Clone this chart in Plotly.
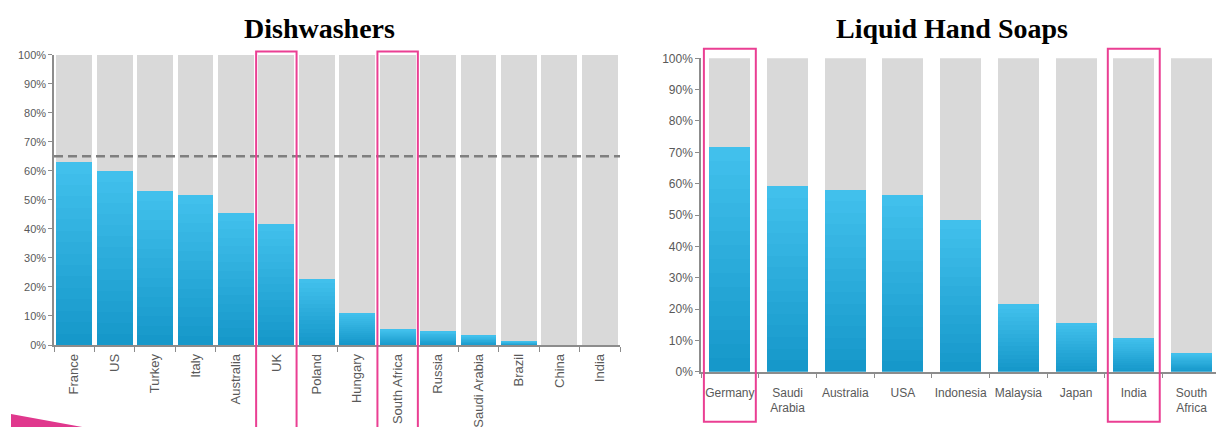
import plotly.graph_objects as go

W, H = 1216, 427

# ---------------- data ----------------
dish_countries = ["France", "US", "Turkey", "Italy", "Australia", "UK", "Poland",
                  "Hungary", "South Africa", "Russia", "Saudi Arabia", "Brazil", "China", "India"]
dish_values = [0.63, 0.60, 0.53, 0.517, 0.455, 0.418, 0.226, 0.111, 0.054, 0.048, 0.033, 0.015, 0.0, 0.0]
dish_benchmark = 0.65
dish_highlight = ["UK", "South Africa"]

soap_countries = ["Germany", "Saudi<br>Arabia", "Australia", "USA", "Indonesia",
                  "Malaysia", "Japan", "India", "South<br>Africa"]
soap_values = [0.717, 0.592, 0.58, 0.565, 0.484, 0.215, 0.155, 0.107, 0.059]
soap_highlight = ["Germany", "India"]

y_ticks = [0, 0.1, 0.2, 0.3, 0.4, 0.5, 0.6, 0.7, 0.8, 0.9, 1.0]

# ---------------- styling ----------------
GREY_BAR = "#D9D9D9"
BOTTOM = (22, 152, 202)
TOP = (65, 192, 236)
PINK = "#EA3F93"
AXIS = "#8C8C8C"
TXT = "#595959"
N_SLICES = 16


def slice_color(k):
    t = k / (N_SLICES - 1)
    r, g, b = (round(BOTTOM[i] + (TOP[i] - BOTTOM[i]) * t) for i in range(3))
    return f"rgb({r},{g},{b})"


fig = go.Figure()


def add_bars(cats, vals, xa, ya, width=None):
    for k in range(N_SLICES):
        fig.add_trace(go.Bar(
            x=cats, y=[v / N_SLICES for v in vals], xaxis=xa, yaxis=ya, width=width,
            marker=dict(color=slice_color(k), line=dict(width=0)),
            hoverinfo="skip", showlegend=False))
    fig.add_trace(go.Bar(
        x=cats, y=[1 - v for v in vals], xaxis=xa, yaxis=ya, width=width,
        marker=dict(color=GREY_BAR, line=dict(width=0)),
        hoverinfo="skip", showlegend=False))


add_bars(dish_countries, dish_values, "x", "y", 0.89)
add_bars(soap_countries, soap_values, "x2", "y2", 0.71)


def px_x(x):
    return x / W


def px_y(y):
    return 1 - y / H


left_dom_x = [px_x(54), px_x(620)]
left_dom_y = [px_y(345), px_y(54.7)]
right_dom_x = [px_x(701), 1.0]
right_dom_y = [px_y(371.7), px_y(58.3)]

sans = "Liberation Sans, Arial, sans-serif"
yfont_l = dict(family=sans, size=11, color=TXT)
xfont_l = dict(family=sans, size=13, color=TXT)
font_r = dict(family=sans, size=12, color=TXT)

common = dict(showgrid=False, zeroline=False, automargin=False,
              showline=True, linecolor=AXIS, linewidth=1.5, ticks="outside", tickcolor=AXIS)

fig.update_layout(
    width=W, height=H,
    margin=dict(l=0, r=0, t=0, b=0, autoexpand=False),
    paper_bgcolor="white", plot_bgcolor="white",
    barmode="stack",
    xaxis=dict(domain=left_dom_x, anchor="y", type="category", range=[-0.5, 13.5],
               tickson="boundaries", ticklen=5, tickangle=-90, tickfont=xfont_l,
               ticklabelstandoff=2, **common),
    yaxis=dict(domain=left_dom_y, anchor="x", range=[0, 1], tickvals=y_ticks,
               tickformat=".0%", ticklen=4, tickfont=yfont_l, **common),
    xaxis2=dict(domain=right_dom_x, anchor="y2", type="category", range=[-0.5, 8.425],
                tickson="boundaries", ticklen=5, tickangle=0, tickfont=font_r,
                ticklabelstandoff=9, **common),
    yaxis2=dict(domain=right_dom_y, anchor="x2", range=[0, 1], tickvals=y_ticks,
                tickformat=".0%", ticklen=4, tickfont=font_r, **common),
)

shapes = []
# benchmark dashed line
shapes.append(dict(type="line", xref="x domain", yref="y", x0=0, x1=1,
                   y0=dish_benchmark, y1=dish_benchmark,
                   line=dict(color="#7F7F7F", width=2.5, dash="9px,5px"), layer="above"))
# highlight boxes
for c in dish_highlight:
    i = dish_countries.index(c)
    shapes.append(dict(type="rect", xref="x", yref="paper", x0=i - 0.5, x1=i + 0.5,
                       y0=-0.2, y1=px_y(51.5), line=dict(color=PINK, width=2),
                       fillcolor="rgba(0,0,0,0)", layer="above"))
for c in soap_highlight:
    i = [s.replace("<br>", " ") for s in soap_countries].index(c)
    shapes.append(dict(type="rect", xref="x2", yref="paper", x0=i - 0.45, x1=i + 0.45,
                       y0=px_y(421.7), y1=px_y(48.7), line=dict(color=PINK, width=2),
                       fillcolor="rgba(0,0,0,0)", layer="above"))
# decorative wedge bottom-left
shapes.append(dict(type="path", xref="paper", yref="paper",
                   path=f"M {px_x(11)},{px_y(414)} L {px_x(85)},{px_y(427.5)} L {px_x(11)},{px_y(427.5)} Z",
                   fillcolor="#E0388D", line=dict(width=0), layer="above"))
fig.update_layout(shapes=shapes)

title_font = dict(family="Liberation Serif, Times New Roman, serif", size=28, color="black")
fig.add_annotation(text="<b>Dishwashers</b>", xref="paper", yref="paper",
                   x=px_x(319), y=px_y(28.5), xanchor="center", yanchor="middle",
                   showarrow=False, font=title_font)
fig.add_annotation(text="<b>Liquid Hand Soaps</b>", xref="paper", yref="paper",
                   x=px_x(952), y=px_y(28.5), xanchor="center", yanchor="middle",
                   showarrow=False, font=title_font)

fig.write_html("out.html")
